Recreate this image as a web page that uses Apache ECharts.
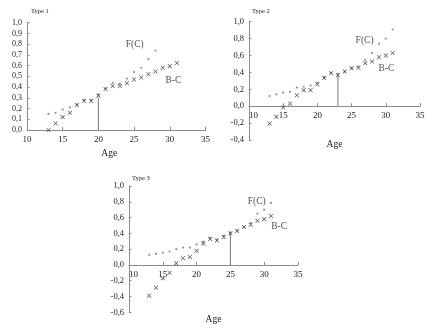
<!DOCTYPE html>
<html>
<head>
<meta charset="utf-8">
<script src="https://cdn.jsdelivr.net/npm/echarts@6/dist/echarts.min.js"></script>
<style>
html,body{margin:0;padding:0;background:#fff;}
#c{width:443px;height:335px;}
</style>
</head>
<body>
<div id="c"></div>
<script>
// ---- data ----
const agesFull = [13,14,15,16,17,18,19,20,21,22,23,24,25,26,27,28,29,30,31];
const ages1FC = [13,14,15,16,17,18,19,20,21,22,23,24,25,26,27,28];
const type1FC = [0.15,0.16,0.19,0.21,0.24,0.28,0.28,0.33,0.39,0.44,0.43,0.48,0.54,0.58,0.66,0.74];
const type1BC = [0.0,0.06,0.12,0.16,0.23,0.27,0.27,0.32,0.38,0.41,0.41,0.435,0.47,0.49,0.52,0.545,0.58,0.595,0.625];
const type2FC = [0.12,0.14,0.16,0.17,0.22,0.23,0.245,0.28,0.34,0.395,0.38,0.41,0.45,0.47,0.55,0.63,0.74,0.80,0.91];
const type2BC = [-0.205,-0.126,-0.016,0.03,0.13,0.19,0.19,0.26,0.335,0.39,0.37,0.41,0.45,0.455,0.51,0.53,0.58,0.60,0.63];
const type3FC = [0.127,0.14,0.156,0.17,0.2,0.22,0.22,0.26,0.295,0.34,0.32,0.37,0.41,0.435,0.48,0.53,0.65,0.70,0.785];
const type3BC = [-0.39,-0.29,-0.17,-0.1,0.02,0.085,0.1,0.18,0.27,0.33,0.31,0.355,0.40,0.43,0.48,0.51,0.56,0.58,0.62];
const dropLines = [[20,0.3],[23,0.37],[25,0.40]];
const titles = ['Type 1','Type 2','Type 3'];
const seriesNames = ['F(C)','B-C'];
const labelPosFC = [[25.1,0.80],[26.9,0.775],[28.9,0.80]];
const labelPosBC = [[30.5,0.46],[30.1,0.45],[32.2,0.485]];
const yRanges = [[0,1,0.1],[-0.4,1,0.2],[-0.6,1,0.2]];

// ---- layout ----
const FONT = 'Liberation Serif';
const grids = [
  {left:27, top:22.7, width:178.5, height:107.3},
  {left:249, top:21.7, width:171, height:118.3},
  {left:129, top:186, width:169, height:126.3}
];
// place x axis at value 0 of each y range (pixel offset from grid bottom)
const xOffset = grids.map((g,i)=>{
  const [mn,mx] = yRanges[i];
  return -g.height * (0 - mn) / (mx - mn);
});
const xGap = [18, 33, 50];
const yFont = [8, 8.5, 8.5];
const titlePos = [[31,8],[252,8],[132,174.5]];
const AXC = '#8a8a8a';
const TXT = '#222';
const xPath = 'path://M0,1.2L1.2,0L5,3.8L8.8,0L10,1.2L6.2,5L10,8.8L8.8,10L5,6.2L1.2,10L0,8.8L3.8,5Z';

const xAxes = grids.map((g,i)=>({
  type:'value', gridIndex:i, min:10, max:35, interval:5, offset:xOffset[i],
  axisLine:{onZero:false, lineStyle:{color:AXC, width:1}},
  axisTick:{show:true, inside:true, length:3, lineStyle:{color:AXC}},
  splitLine:{show:false},
  axisLabel:{fontFamily:FONT, fontSize:9, color:TXT, margin:5, alignMinLabel: i===0?'center':'left'},
  name:'Age', nameLocation:'middle', nameGap:xGap[i],
  nameTextStyle:{fontFamily:FONT, fontSize:9.5, color:TXT, padding: i===0?[0,14,0,0]:0}
}));
const yAxes = grids.map((g,i)=>({
  type:'value', gridIndex:i, min:yRanges[i][0], max:yRanges[i][1], interval:yRanges[i][2],
  axisLine:{show:true, onZero:false, lineStyle:{color:AXC, width:1}},
  axisTick:{show:true, inside:true, length:2.5, lineStyle:{color:AXC}},
  splitLine:{show:false},
  axisLabel:{fontFamily:FONT, fontSize:yFont[i], color:TXT, margin:5,
    formatter:v=>v.toFixed(1).replace('.',',')}
}));

const fcSets = [ages1FC.map((a,k)=>[a,type1FC[k]]), agesFull.map((a,k)=>[a,type2FC[k]]), agesFull.map((a,k)=>[a,type3FC[k]])];
const bcSets = [type1BC, type2BC, type3BC].map(arr=>agesFull.map((a,k)=>[a,arr[k]]));

const series = [];
for (let i=0;i<3;i++){
  series.push({type:'line', xAxisIndex:i, yAxisIndex:i, data:[[dropLines[i][0],0],[dropLines[i][0],dropLines[i][1]]],
    symbol:'none', lineStyle:{color:'#777', width:1}, silent:true, z:1});
  series.push({type:'scatter', name:seriesNames[0], xAxisIndex:i, yAxisIndex:i, data:fcSets[i],
    symbol:'circle', symbolSize:2.2, itemStyle:{color:'#777'}, z:3});
  series.push({type:'scatter', name:seriesNames[1], xAxisIndex:i, yAxisIndex:i, data:bcSets[i],
    symbol:xPath, symbolSize:4.5, itemStyle:{color:'#3a3a3a'}, z:4});
  series.push({type:'scatter', xAxisIndex:i, yAxisIndex:i,
    data:[{value:labelPosFC[i], name:seriesNames[0]},{value:labelPosBC[i], name:seriesNames[1]}],
    symbolSize:1, itemStyle:{color:'rgba(0,0,0,0)'},
    label:{show:true, position:'inside', formatter:p=>p.name, fontFamily:FONT, fontSize:9.5, color:TXT}, z:5});
}

const chart = echarts.init(document.getElementById('c'), null, {renderer:'canvas'});
chart.setOption({
  backgroundColor:'#fff',
  animation:false,
  title: titles.map((t,i)=>({text:t, left:titlePos[i][0], top:titlePos[i][1],
    textStyle:{fontFamily:FONT, fontSize:6.5, fontWeight:'normal', color:TXT}, padding:0})),
  grid: grids,
  xAxis: xAxes,
  yAxis: yAxes,
  series: series
});
</script>
</body>
</html>
